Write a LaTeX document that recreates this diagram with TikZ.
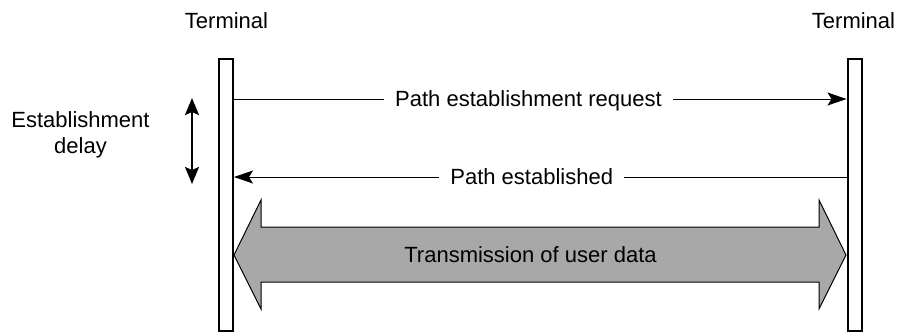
\documentclass[tikz,border=0pt]{standalone}
\usepackage{fontspec}
\setmainfont{Liberation Sans}
\usetikzlibrary{arrows.meta,calc}
\begin{document}
\begin{tikzpicture}[x=1pt,y=-1pt,
  lbl/.style={font=\fontsize{22}{26}\selectfont, inner sep=0pt},
  msglbl/.style={lbl, fill=white, inner xsep=11pt, text height=15.8pt, text depth=0pt},
  bar/.style={draw=black, line width=2pt, fill=white, rectangle, minimum width=14pt, minimum height=272pt, inner sep=0pt},
  msg/.style={line width=1pt, -{Stealth[length=19pt,width=13pt,inset=4pt]}},
  bigarrow/.style={draw=black, line width=1pt, fill=bigfill, line join=miter}
]
\definecolor{bigfill}{RGB}{168,168,168}
\useasboundingbox (0,0) rectangle (907,333);

% terminals
\node[bar] (L) at (226,195) {};
\node[bar] (R) at (854.5,195) {};
\node[lbl, text height=15.8pt, text depth=0pt] (tl) at (226.5,20.5) {Terminal};
\node[lbl, text height=15.8pt, text depth=0pt] (tr) at (853.5,20.5) {Terminal};

% messages
\coordinate (yreq) at (0,99);
\coordinate (yest) at (0,177);
\draw[msg] (L.east |- yreq) -- (R.west |- yreq);
\draw[msg] (R.west |- yest) -- (L.east |- yest);
\node[msglbl] (req) at (528.5,99) {Path establishment request};
\node[msglbl] (est) at (531.7,177) {Path established};

% establishment delay
\coordinate (dtop) at (192,98);
\coordinate (dbot) at (192,184);
\draw[line width=2pt, {Stealth[length=17pt,width=14pt,inset=3pt]}-{Stealth[length=17pt,width=14pt,inset=3pt]}] (dtop) -- (dbot);
\node[lbl, align=center] (delay) at (80.5,135) {Establishment\\delay};

% transmission of user data
\coordinate (ltip) at (234,255);
\coordinate (rtip) at (846,255);
\draw[bigarrow] (ltip) -- (261,200) -- (261,227) -- (819,227) -- (819,200) -- (rtip)
  -- (819,309) -- (819,282) -- (261,282) -- (261,309) -- cycle;
\node[lbl, text height=15.8pt, text depth=0pt] (data) at (530.5,255) {Transmission of user data};
\end{tikzpicture}
\end{document}
